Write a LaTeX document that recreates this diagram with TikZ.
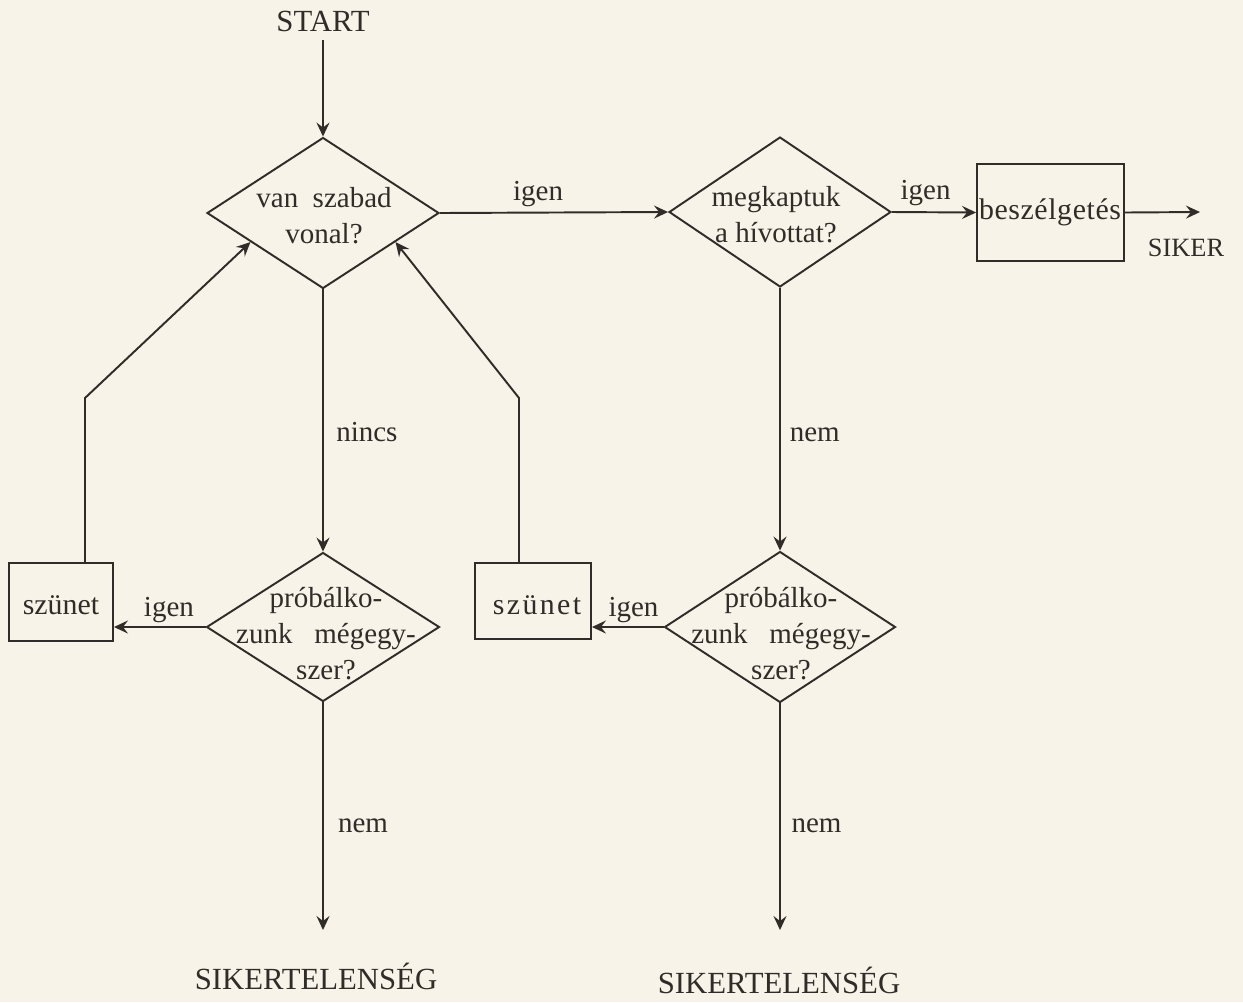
\documentclass[tikz,border=0pt]{standalone}
\usepackage{fontspec}
\setmainfont{Liberation Serif}
\usetikzlibrary{shapes.geometric,arrows.meta,calc}
\definecolor{paper}{RGB}{247,243,233}
\definecolor{ink}{RGB}{48,44,40}
\begin{document}
\begin{tikzpicture}[x=0.02cm,y=-0.02cm,
  line width=1.1pt, draw=ink, text=ink,
  lbl/.style={font=\fontsize{16.5}{19}\selectfont, inner sep=0pt},
  capt/.style={font=\fontsize{17.5}{20}\selectfont, inner sep=0pt},
  dtext/.style={font=\fontsize{16.5}{20.5}\selectfont, align=center, inner sep=0pt},
  dia/.style={draw, diamond, inner sep=0pt},
  boxn/.style={draw, rectangle, inner sep=0pt},
  arr/.style={-{Stealth[length=0.28cm,width=0.26cm,inset=0.1cm]}}]
\fill[paper] (0,0) rectangle (1243,1002);
\useasboundingbox (0,0) rectangle (1243,1002);

% shapes
\node[dia, minimum width=4.64cm, minimum height=3.02cm] (d1) at (323,213) {};
\node[dia, minimum width=4.44cm, minimum height=3.0cm] (d2) at (780,212) {};
\node[dia, minimum width=4.66cm, minimum height=2.98cm] (d3) at (323,627) {};
\node[dia, minimum width=4.62cm, minimum height=3.02cm] (d4) at (780,627) {};
\node[boxn, minimum width=2.94cm, minimum height=1.94cm] (b1) at (1050.5,212.5) {};
\node[boxn, minimum width=2.08cm, minimum height=1.56cm] (s1) at (61,602) {};
\node[boxn, minimum width=2.32cm, minimum height=1.52cm] (s2) at (533,601) {};

% texts
\node[capt] (start) at (323,21) {START};
\node[dtext] (t1) at (324,216) {van\ \ szabad\\vonal?};
\node[dtext] (t2) at (776,215) {megkaptuk\\a hívottat?};
\node[dtext] (t3) at (326,634) {próbálko-\\zunk\ \ \ mégegy-\\szer?};
\node[dtext] (t4) at (781,634) {próbálko-\\zunk\ \ \ mégegy-\\szer?};
\node[lbl, font=\fontsize{17}{19}\selectfont\addfontfeature{LetterSpace=2}] (tb) at (1050,212) {beszélgetés};
\node[lbl, font=\fontsize{17}{19}\selectfont] (ts1) at (61,605) {szünet};
\node[lbl, font=\fontsize{17}{19}\selectfont\addfontfeature{LetterSpace=8}] (ts2) at (537,605) {szünet};
\node[capt, font=\fontsize{15}{17}\selectfont] (siker) at (1186,248) {SIKER};
\node[capt] (fail1) at (316,976) {SIKERTELENSÉG};
\node[capt] (fail2) at (779,980) {SIKERTELENSÉG};

% free ends and bends
\coordinate (e1) at (1200,212);
\coordinate (e3) at (323,930);
\coordinate (e4) at (780,930);
\coordinate (s1top) at (85,563);
\coordinate (bend1) at (85,398);
\coordinate (s2top) at (519,563);
\coordinate (bend2) at (519,398);

% connectors
\draw[arr] (start.south |- 0,40) -- (d1.north);
\draw[arr] (d1.east) -- node[lbl, above=3pt, pos=0.43] {igen} (d2.west);
\draw[arr] (d2.east) -- node[lbl, above=3pt, pos=0.4] {igen} (b1.west);
\draw[arr] (b1.east) -- (e1);
\draw[arr] (d1.south) -- node[lbl, right=7pt, pos=0.543] {nincs} (d3.north);
\draw[arr] (d2.south) -- node[lbl, right=5pt, pos=0.56] {nem} (d4.north);
\draw[arr] (d3.west) -- node[lbl, above=2pt, pos=0.4] {igen} (d3.west -| s1.east);
\draw[arr] (d4.west) -- node[lbl, above=2pt, pos=0.42] {igen} (d4.west -| s2.east);
\draw[arr] (d3.south) -- node[lbl, right=8pt, pos=0.54] {nem} (e3);
\draw[arr] (d4.south) -- node[lbl, right=6pt, pos=0.54] {nem} (e4);
\draw[arr] (s1top) -- (bend1) -- ($(d1.west)!0.38!(d1.south)$);
\draw[arr] (s2top) -- (bend2) -- ($(d1.south)!0.62!(d1.east)$);
\end{tikzpicture}
\end{document}
